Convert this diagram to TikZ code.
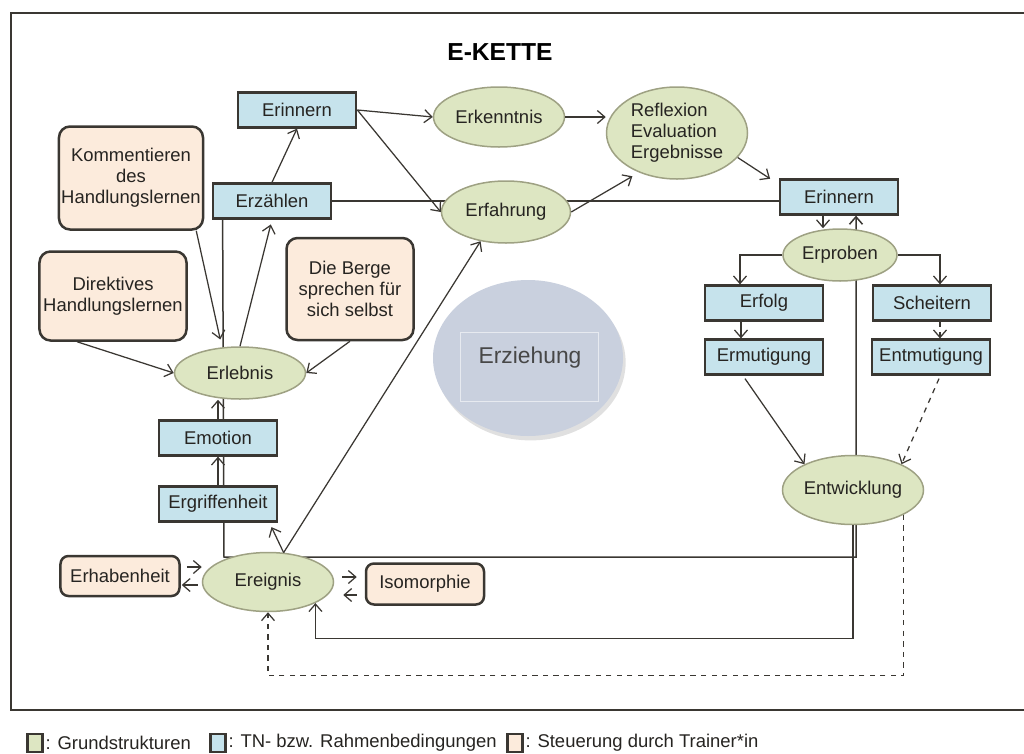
\documentclass[tikz,border=0pt]{standalone}
\usepackage{fontspec}
\setmainfont{Liberation Sans}
\usetikzlibrary{calc,positioning,shapes.geometric,arrows.meta,backgrounds,shadows}
\definecolor{grundfill}{HTML}{DDE6C2}
\definecolor{grundrand}{HTML}{9EA183}
\definecolor{tnfill}{HTML}{C6E3EC}
\definecolor{steuerfill}{HTML}{FCEBDC}
\definecolor{rand}{HTML}{3A3732}
\definecolor{txt}{HTML}{262421}
\definecolor{erzfill}{HTML}{C9D0DE}

\begin{document}
\begin{tikzpicture}[x=0.2mm,y=-0.2mm,
  font=\fontsize{10.5}{12}\selectfont,
  >={Straight Barb[length=1.5mm,width=2.6mm]},
  grund/.style={ellipse, draw=grundrand, line width=0.3mm, fill=grundfill, inner sep=0pt, text=txt},
  tnbox/.style={rectangle, draw=rand, line width=0.55mm, fill=tnfill, minimum width=23.6mm, minimum height=6.9mm, inner sep=0pt, text=txt},
  steuer/.style={rectangle, rounded corners=2.2mm, draw=rand, line width=0.5mm, fill=steuerfill, inner sep=0pt, align=center, text=txt},
  legkasten/.style={rectangle, draw=rand, line width=0.5mm, minimum width=3mm, minimum height=3.6mm, inner sep=0pt},
  linie/.style={draw=rand, line width=0.3mm},
  pfeil/.style={draw=rand, line width=0.25mm, ->}]
			%%%%% START %%%%%
			\useasboundingbox (0,0) rectangle (1024,754);
			\draw[rand, line width=0.5mm] (11,13) rectangle (1034,710);
			
			\node[font=\fontsize{14}{16}\selectfont\bfseries, text=black] (titel) at (500,52) {E-KETTE};
			
			% Erziehung
			\node[ellipse, fill=erzfill, minimum width=38mm, minimum height=31.2mm,
			  drop shadow={shadow xshift=1.5pt, shadow yshift=-2.5pt, fill=black!40, opacity=.3}] (erziehung) at (528,358) {};
			\node[draw=white!55!erzfill, line width=0.2mm, minimum width=27.6mm, minimum height=13.8mm] (erzrahmen) at (529,367) {};
			\node[font=\fontsize{13}{15}\selectfont, text=black!72] (erztext) at (530,358) {Erziehung};
			
			% Grundstrukturen
			\node[grund, minimum width=26.2mm, minimum height=12mm] (erkenntnis) at (499,117) {Erkenntnis};
			\node[grund, minimum width=28.2mm, minimum height=18.4mm, align=left] (reflexion) at (677,133) {Reflexion\\Evaluation\\Ergebnisse};
			\node[grund, minimum width=25.8mm, minimum height=12.4mm] (erfahrung) at (506,212) {Erfahrung};
			\node[grund, minimum width=22.8mm, minimum height=10.4mm] (erproben) at (840,255) {Erproben};
			\node[grund, minimum width=28.2mm, minimum height=13.8mm] (entwicklung) at (853,490) {Entwicklung};
			\node[grund, minimum width=26.2mm, minimum height=10.4mm] (erlebnis) at (240,373) {Erlebnis};
			\node[grund, minimum width=26.2mm, minimum height=11.8mm] (ereignis) at (268,582) {Ereignis};
			
			% TN- bzw. Rahmenbedingungen
			\node[tnbox] (erinnernA) at (297,110) {Erinnern};
			\node[tnbox] (erzaehlen) at (272,201) {Erzählen};
			\node[tnbox] (erinnernB) at (839,197) {Erinnern};
			\node[tnbox] (erfolg) at (764,303) {Erfolg};
			\node[tnbox] (scheitern) at (932,303) {Scheitern};
			\node[tnbox] (ermutigung) at (764,357) {Ermutigung};
			\node[tnbox] (entmutigung) at (931,357) {Entmutigung};
			\node[tnbox] (emotion) at (218,438) {Emotion};
			\node[tnbox] (ergriffen) at (218,504) {Ergriffenheit};
			
			% Steuerung durch Trainer*in
			\node[steuer, minimum width=28.8mm, minimum height=20.6mm] (kommentieren) at (131,178) {Kommentieren\\des\\Handlungslernen};
			\node[steuer, minimum width=29.4mm, minimum height=17.8mm] (direktiv) at (113,296) {Direktives\\Handlungslernen};
			\node[steuer, minimum width=25.4mm, minimum height=20.4mm] (berge) at (350,289) {Die Berge\\sprechen für\\sich selbst};
			\node[steuer, rounded corners=1.6mm, minimum width=23.8mm, minimum height=8mm] (erhaben) at (120,576) {Erhabenheit};
			\node[steuer, rounded corners=1.6mm, minimum width=23.6mm, minimum height=8.2mm] (isomorphie) at (425,584) {Isomorphie};
			
			% Linien hinter den Knoten
			\coordinate (schleifeA) at (224,557);
			\coordinate (schleifeB) at (856,557);
			\begin{scope}[on background layer]
			\draw[linie] (erzaehlen.east) -- (erzaehlen.east -| erinnernB.west);
			\draw[linie, ->] ($(erzaehlen.south west)+(11,0)$) -- (schleifeA) -- (schleifeB) -- (schleifeB |- erinnernB.south);
			\end{scope}
			
			% oben
			\draw[pfeil] (erzaehlen.north) -- (erinnernA.south);
			\draw[pfeil] (erinnernA.east) -- (erkenntnis.west);
			\draw[pfeil] (erinnernA.east) -- (erfahrung.west);
			\draw[pfeil] (erkenntnis.east) -- (erkenntnis.east -| reflexion.west);
			\draw[pfeil, shorten >=1.5mm] (erfahrung.east) -- (reflexion.226);
			\draw[pfeil, shorten >=0.6mm] (reflexion.-22) -- ($(erinnernB.north west)+(-6,2)$);
			
			% rechts
			\draw[pfeil] ($(erinnernB.south)+(-16,0)$) coordinate (p) -- (p |- erproben.north);
			\draw[pfeil] (erproben.west) -| ($(erfolg.north)+(-24,0)$);
			\draw[pfeil] (erproben.east) -| ($(scheitern.north)+(8,0)$);
			\draw[pfeil] ($(erfolg.south)+(-23,0)$) -- ($(ermutigung.north)+(-23,0)$);
			\draw[pfeil, dashed] ($(scheitern.south)+(8,0)$) -- ($(entmutigung.north)+(9,0)$);
			\draw[pfeil] ($(ermutigung.south)+(-19,3)$) -- (entwicklung.152);
			\draw[pfeil, dashed] ($(entmutigung.south)+(8,3)$) -- (entwicklung.28);
			
			% Rückführung zum Ereignis
			\draw[pfeil] (entwicklung.south) -- ++(0,113.5) -| (ereignis.-24);
			\draw[pfeil, dashed] (entwicklung.-26) -- ++(0,161) -| (ereignis.south);
			
			% links
			\draw[pfeil] (emotion.north) -- (emotion.north |- erlebnis.south);
			\draw[pfeil] (ergriffen.north) -- (emotion.south);
			\draw[pfeil, shorten >=1mm] (erlebnis.north) -- (erzaehlen.south);
			\draw[pfeil, shorten >=1.6mm] ($(kommentieren.south east)+(-8,0)$) -- (erlebnis.125);
			\draw[pfeil] ($(direktiv.south)+(-36,0)$) -- (erlebnis.west);
			\draw[pfeil] (berge.south) -- (erlebnis.east);
			\draw[pfeil, shorten >=1mm] (ereignis.62) -- ($(ergriffen.south east)+(-9,0)$);
			\draw[pfeil] (ereignis.62) -- (erfahrung.229);
			
			\draw[pfeil] ($(erhaben.east)+(6,-9)$) -- ($(ereignis.west)+(0,-15)$);
			\draw[pfeil] ($(ereignis.west)+(-4,3)$) -- ($(erhaben.east)+(1,9)$);
			\draw[pfeil] ($(ereignis.east)+(8,-5)$) -- ($(isomorphie.west)+(-8,-7)$);
			\draw[pfeil] ($(isomorphie.west)+(-8,11)$) -- ($(ereignis.east)+(9,13)$);
			
			% Legende
			\node[legkasten, fill=grundfill] (legGrund) at (35,743) {};
			\node[right=0.3mm of legGrund, inner sep=0pt, text=txt] (txtGrund) {: Grundstrukturen};
			\node[legkasten, fill=tnfill] (legTN) at (218,743) {};
			\node[right=0.3mm of legTN, inner sep=0pt, text=txt] (txtTN) {: TN- bzw. Rahmenbedingungen};
			\node[legkasten, fill=steuerfill] (legSteuer) at (515,743) {};
			\node[right=0.3mm of legSteuer, inner sep=0pt, text=txt] (txtSteuer) {: Steuerung durch Trainer*in};
			%%%%% END %%%%%
\end{tikzpicture}
\end{document}
